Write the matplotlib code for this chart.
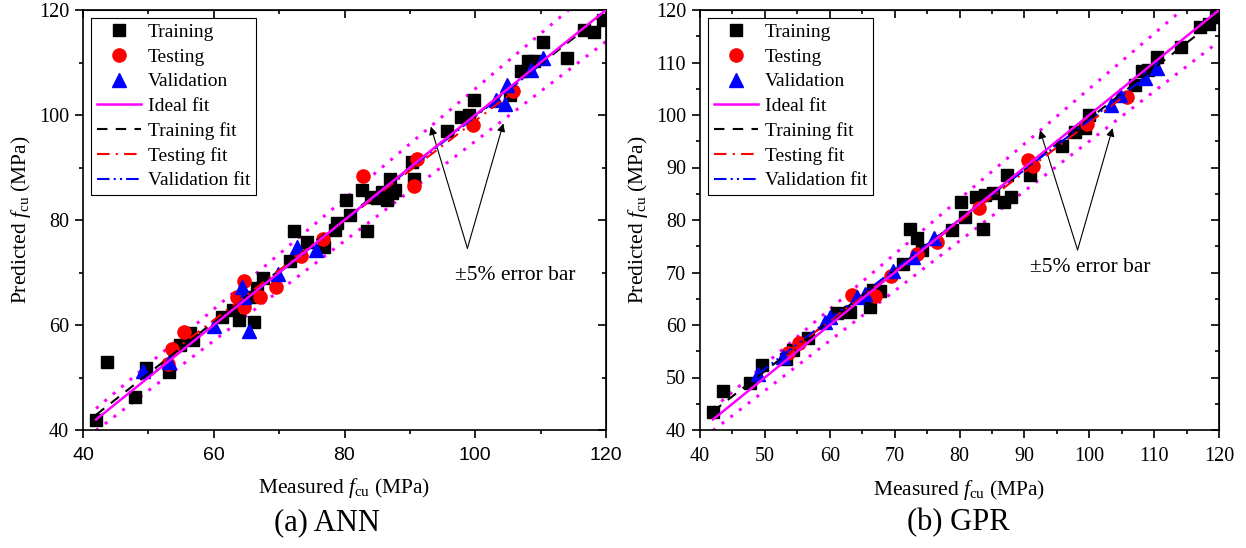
import numpy as np
import matplotlib
matplotlib.use('Agg')
import matplotlib.pyplot as plt
from matplotlib.ticker import MultipleLocator

plt.rcParams['font.family'] = 'Liberation Serif'
plt.rcParams['mathtext.fontset'] = 'custom'
plt.rcParams['mathtext.rm'] = 'Liberation Serif'
plt.rcParams['mathtext.it'] = 'Liberation Serif:italic'

# ANN data (measured, predicted)
ann_train_x = [42.0, 43.7, 47.9, 49.7, 53.2, 54.8, 56.4, 56.9, 61.3, 63.0, 63.8, 66.1, 65.6, 66.6, 67.5,
               71.7, 72.2, 74.2, 76.8, 78.6, 78.9, 80.9, 83.5, 80.2, 82.7, 84.0, 85.0, 85.8, 86.5, 87.3,
               87.8, 87.0, 90.4, 90.7, 95.7, 97.8, 99.1, 99.8, 105.3, 107.0, 108.0, 109.0, 110.3, 114.0,
               116.7, 118.1, 119.5]
ann_train_y = [41.9, 52.9, 46.2, 51.9, 51.1, 56.2, 58.4, 57.1, 61.6, 62.9, 61.0, 60.6, 65.4, 67.0, 68.9,
               72.1, 78.0, 75.9, 74.9, 78.1, 79.4, 81.0, 78.0, 83.8, 85.7, 84.4, 84.1, 85.4, 83.8, 85.1,
               85.7, 87.9, 91.1, 87.9, 96.9, 99.7, 100.0, 102.9, 103.8, 108.3, 110.2, 110.2, 114.0, 110.8,
               116.2, 115.9, 118.1]
ann_test_x = [53.0, 53.6, 55.4, 63.6, 64.6, 64.7, 67.0, 69.5, 73.3, 76.7, 82.9, 90.7, 91.1, 99.6, 105.7]
ann_test_y = [52.5, 55.4, 58.7, 65.3, 63.5, 68.4, 65.3, 67.2, 73.1, 76.3, 88.3, 86.4, 91.6, 98.1, 104.6]
ann_val_x = [49.2, 53.2, 60.1, 64.3, 64.6, 65.4, 69.9, 72.7, 75.7, 103.1, 104.5, 104.9, 108.5, 110.3]
ann_val_y = [51.3, 53.0, 59.9, 67.3, 65.4, 58.9, 69.7, 74.9, 74.3, 102.9, 102.1, 105.7, 108.6, 110.8]

# GPR data (measured, predicted)
gpr_train_x = [42.0, 43.6, 47.7, 49.5, 53.3, 54.4, 56.7, 61.1, 63.1, 66.2, 66.7, 67.7, 71.3, 72.3, 73.5,
               74.2, 78.8, 80.8, 83.6, 80.3, 82.6, 83.9, 85.2, 86.8, 88.0, 87.3, 90.9, 95.8, 97.8, 99.3,
               99.9, 107.1, 108.1, 109.0, 110.5, 114.1, 117.1, 118.4, 119.6]
gpr_train_y = [43.5, 47.5, 49.0, 52.4, 53.5, 55.2, 57.5, 62.2, 62.5, 63.5, 66.7, 66.5, 71.7, 78.2, 76.5,
               74.3, 78.1, 80.6, 78.2, 83.5, 84.4, 84.8, 85.1, 83.5, 84.4, 88.6, 88.6, 94.1, 96.8, 97.5,
               100.0, 105.7, 108.3, 108.6, 111.0, 113.0, 116.8, 117.3, 118.7]
gpr_test_x = [53.5, 55.2, 63.4, 67.0, 69.5, 73.4, 76.6, 83.0, 90.6, 91.4, 99.6, 105.8]
gpr_test_y = [54.7, 56.5, 65.7, 65.6, 69.3, 73.5, 75.9, 82.2, 91.4, 90.2, 98.3, 103.5]
gpr_val_x = [49.0, 52.8, 59.3, 60.0, 64.2, 65.4, 69.8, 72.9, 76.0, 103.4, 104.7, 108.6, 110.4]
gpr_val_y = [50.7, 54.0, 60.6, 61.5, 65.3, 66.0, 70.3, 73.0, 76.5, 101.9, 103.8, 107.0, 108.9]

ideal_range = [42, 120]
err = 0.05

fig = plt.figure(figsize=(12.46, 5.48), dpi=100)
ax1 = fig.add_axes([83/1246, 118/548, 523/1246, 420/548])
ax2 = fig.add_axes([700/1246, 118/548, 519/1246, 420/548])


def fit_line(ax, x, y, color, ls):
    k, b = np.polyfit(x, y, 1)
    xx = np.array([min(x), max(x)])
    ax.plot(xx, k * xx + b, color=color, linestyle=ls, lw=1.5, zorder=4)


def draw_panel(ax, data, major, minor, arrows, text_pos, sans_x=False):
    (trx, tr_y), (tex, tey), (vax, vay) = data
    ax.plot(trx, tr_y, 's', color='black', ms=8.5, ls='none', label='Training', zorder=3)
    ax.plot(tex, tey, 'o', color='red', ms=9.5, ls='none', label='Testing', zorder=3)
    ax.plot(vax, vay, '^', color='blue', ms=9.5, ls='none', label='Validation', zorder=3)
    xi = np.array(ideal_range, dtype=float)
    ax.plot(xi, xi, color='#ff00ff', lw=1.8, label='Ideal fit', zorder=5)
    ax.plot([], [], color='black', ls=(0, (5, 4)), lw=1.5, label='Training fit')
    ax.plot([], [], color='red', ls=(0, (6, 3, 1, 3)), lw=1.5, label='Testing fit')
    ax.plot([], [], color='blue', ls=(0, (6, 2, 1, 2, 1, 2)), lw=1.5, label='Validation fit')
    fit_line(ax, trx, tr_y, 'black', (0, (5, 4)))
    fit_line(ax, tex, tey, 'red', (0, (6, 3, 1, 3)))
    fit_line(ax, vax, vay, 'blue', (0, (6, 2, 1, 2, 1, 2)))
    ax.plot(xi, xi * (1 + err), color='#ff00ff', ls=(0, (1, 2.6)), lw=2.2, zorder=2)
    ax.plot(xi, xi * (1 - err), color='#ff00ff', ls=(0, (1, 2.6)), lw=2.2, zorder=2)

    base = arrows[0]
    for tip in arrows[1:]:
        ax.annotate('', xy=tip, xytext=base,
                    arrowprops=dict(arrowstyle='-|>', color='black', lw=0.8, mutation_scale=12,
                                    shrinkA=0, shrinkB=0))
    ax.text(text_pos[0], text_pos[1], '\u00b15% error bar', fontsize=15.5, ha='center', va='center')

    ax.set_xlim(40, 120)
    ax.set_ylim(40, 120)
    ax.xaxis.set_major_locator(MultipleLocator(major))
    ax.xaxis.set_minor_locator(MultipleLocator(minor))
    ax.yaxis.set_major_locator(MultipleLocator(major))
    ax.yaxis.set_minor_locator(MultipleLocator(minor))
    ax.tick_params(which='major', direction='out', length=6, width=1.2, labelsize=14.5, pad=4)
    ax.tick_params(axis='x', which='major', pad=6)
    ax.tick_params(which='minor', direction='out', length=3, width=1.2)
    if sans_x:
        for lab in ax.get_xticklabels():
            lab.set_fontfamily('Liberation Sans')
            lab.set_fontsize(14)
    for s in ax.spines.values():
        s.set_linewidth(1.2)

    top = ax.secondary_xaxis('top')
    top.xaxis.set_major_locator(MultipleLocator(major))
    top.xaxis.set_minor_locator(MultipleLocator(minor))
    top.tick_params(which='major', direction='in', length=6, width=1.2, labeltop=False)
    top.tick_params(which='minor', direction='in', length=3, width=1.2)
    right = ax.secondary_yaxis('right')
    right.yaxis.set_major_locator(MultipleLocator(major))
    right.yaxis.set_minor_locator(MultipleLocator(minor))
    right.tick_params(which='major', direction='in', length=6, width=1.2, labelright=False)
    right.tick_params(which='minor', direction='in', length=3, width=1.2)

    ax.set_xlabel(r'Measured $f_{\mathrm{cu}}$ (MPa)', fontsize=15.5, labelpad=9)
    ax.set_ylabel(r'Predicted $f_{\mathrm{cu}}$ (MPa)', fontsize=15.5, labelpad=4)

    leg = ax.legend(loc='upper left', fontsize=14, frameon=True, fancybox=False,
                    edgecolor='black', framealpha=1, handlelength=2.3, handletextpad=0.35,
                    labelspacing=0.36, borderpad=0.3, borderaxespad=0.4)
    leg.get_frame().set_linewidth(0.8)


draw_panel(ax1,
           [(ann_train_x, ann_train_y), (ann_test_x, ann_test_y), (ann_val_x, ann_val_y)],
           20, 10, [(98.8, 74.6), (93.2, 97.8), (104.3, 98.4)], (106.1, 69.5), sans_x=True)
draw_panel(ax2,
           [(gpr_train_x, gpr_train_y), (gpr_test_x, gpr_test_y), (gpr_val_x, gpr_val_y)],
           10, 5, [(98.2, 74.3), (92.4, 97.1), (103.6, 97.5)], (100.2, 70.9))

fig.text(327/1246, 1 - 523/548, '(a) ANN', fontsize=22, ha='center', va='center')
fig.text(958/1246, 1 - 523/548, '(b) GPR', fontsize=22, ha='center', va='center')

fig.savefig('out.png', dpi=100)
